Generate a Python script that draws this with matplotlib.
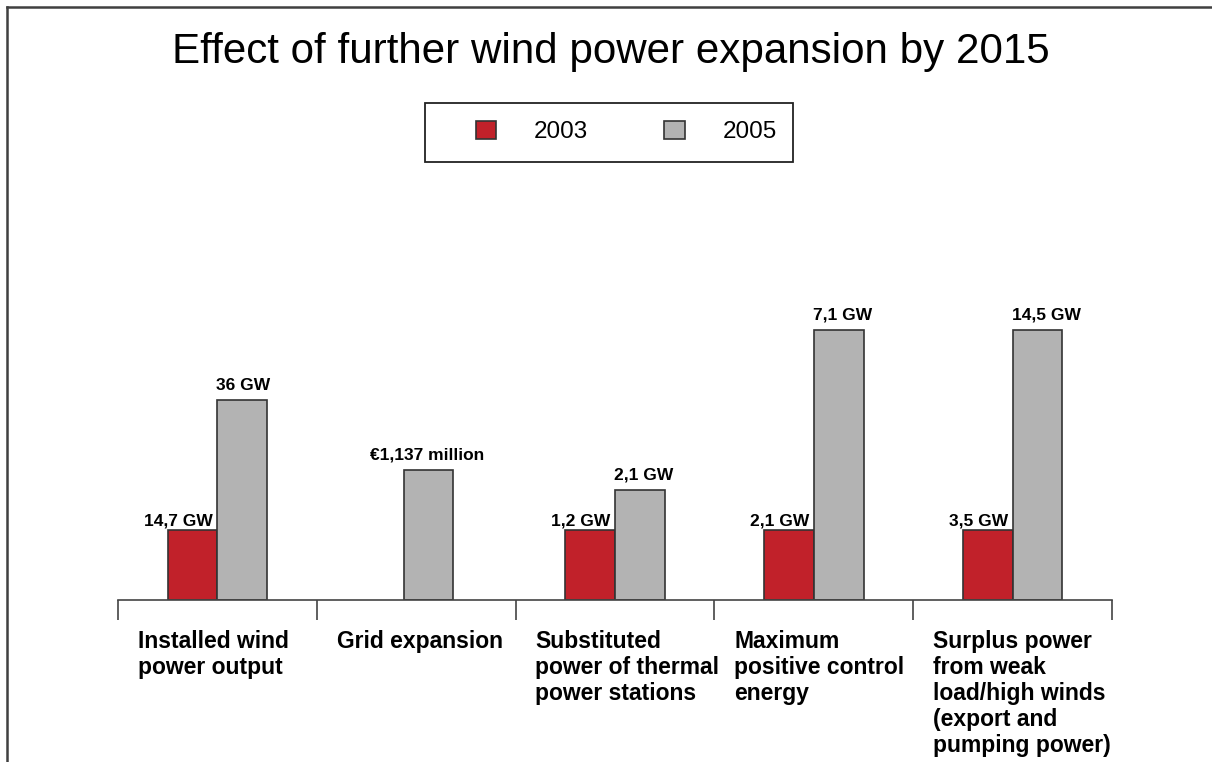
import matplotlib
matplotlib.use('Agg')
import matplotlib.pyplot as plt
from matplotlib.patches import Rectangle
from matplotlib.lines import Line2D

plt.rcParams['font.family'] = ['Liberation Sans', 'DejaVu Sans']

# Data (bar heights are schematic, as in the original slide)
categories = [
    'Installed wind\npower output',
    'Grid expansion',
    'Substituted\npower of thermal\npower stations',
    'Maximum\npositive control\nenergy',
    'Surplus power\nfrom weak\nload/high winds\n(export and\npumping power)',
]
series_names = ['2003', '2005']
height_2003 = [70, None, 70, 70, 70]
height_2005 = [200, 130, 110, 270, 270]
label_2003 = ['14,7 GW', None, '1,2 GW', '2,1 GW', '3,5 GW']
label_2005 = ['36 GW', '€1,137 million', '2,1 GW', '7,1 GW', '14,5 GW']

red = '#C1212A'
grey = '#B3B3B3'
edge = '#333333'

fig = plt.figure(figsize=(12.12, 7.62), dpi=100)
W, H = 1212, 762

ax = fig.add_axes([118 / W, (H - 600) / H, (1112 - 118) / W, 300 / H])
ax.set_xlim(-0.5, 4.5)
ax.set_ylim(0, 300)

bw = 0.25
for i in range(len(categories)):
    if height_2003[i] is not None:
        xr = i - bw / 2
        ax.bar(xr, height_2003[i], bw, color=red, edgecolor=edge, linewidth=1.2)
        ax.text(xr + bw / 2 - 0.025, height_2003[i] + 5, label_2003[i],
                ha='right', va='baseline', fontsize=12.5, fontweight='bold')
        xg = i + bw / 2
        ax.bar(xg, height_2005[i], bw, color=grey, edgecolor=edge, linewidth=1.2)
        ax.text(xg - bw / 2 - 0.005, height_2005[i] + 10, label_2005[i],
                ha='left', va='baseline', fontsize=12.5, fontweight='bold')
    else:
        xg = i + bw / 4
        ax.bar(xg, height_2005[i], bw, color=grey, edgecolor=edge, linewidth=1.2)
        ax.text(xg - 0.01, height_2005[i] + 10, label_2005[i],
                ha='center', va='baseline', fontsize=12.5, fontweight='bold')

    ax.text(i - 0.40, -30, categories[i], ha='left', va='top',
            fontsize=16.5, fontweight='bold', linespacing=1.17, clip_on=False)

for s in ['left', 'right', 'top']:
    ax.spines[s].set_visible(False)
ax.spines['bottom'].set_color('#444444')
ax.spines['bottom'].set_linewidth(1.2)
ax.set_xticks([i - 0.5 for i in range(len(categories) + 1)])
ax.set_xticklabels([])
ax.tick_params(axis='x', direction='out', length=14.4, width=1.2, color='#444444')
ax.set_yticks([])

# Title
fig.text(611 / W, 1 - 63 / H, 'Effect of further wind power expansion by 2015',
         ha='center', va='baseline', fontsize=30.3)

# Legend with a separate box
handles = [Rectangle((0, 0), 1, 1, facecolor=red, edgecolor=edge, linewidth=1.2),
           Rectangle((0, 0), 1, 1, facecolor=grey, edgecolor=edge, linewidth=1.2)]
fig.legend(handles, series_names, ncol=2, frameon=False, loc='center',
           bbox_to_anchor=(626 / W, 1 - 132 / H), fontsize=17.5,
           handlelength=0.86, handleheight=0.82, handletextpad=1.55,
           columnspacing=3.1)
fig.add_artist(Rectangle((425 / W, 1 - 162 / H), (793 - 425) / W, 59 / H,
                         transform=fig.transFigure, fill=False,
                         edgecolor='#222222', linewidth=1.3))

# Slide frame (top and left edges)
fig.add_artist(Line2D([7 / W, 1], [1 - 7 / H, 1 - 7 / H], transform=fig.transFigure,
                      color='#404040', linewidth=1.8))
fig.add_artist(Line2D([7 / W, 7 / W], [0, 1 - 7 / H], transform=fig.transFigure,
                      color='#404040', linewidth=1.8))

fig.savefig('out.png', dpi=100)
